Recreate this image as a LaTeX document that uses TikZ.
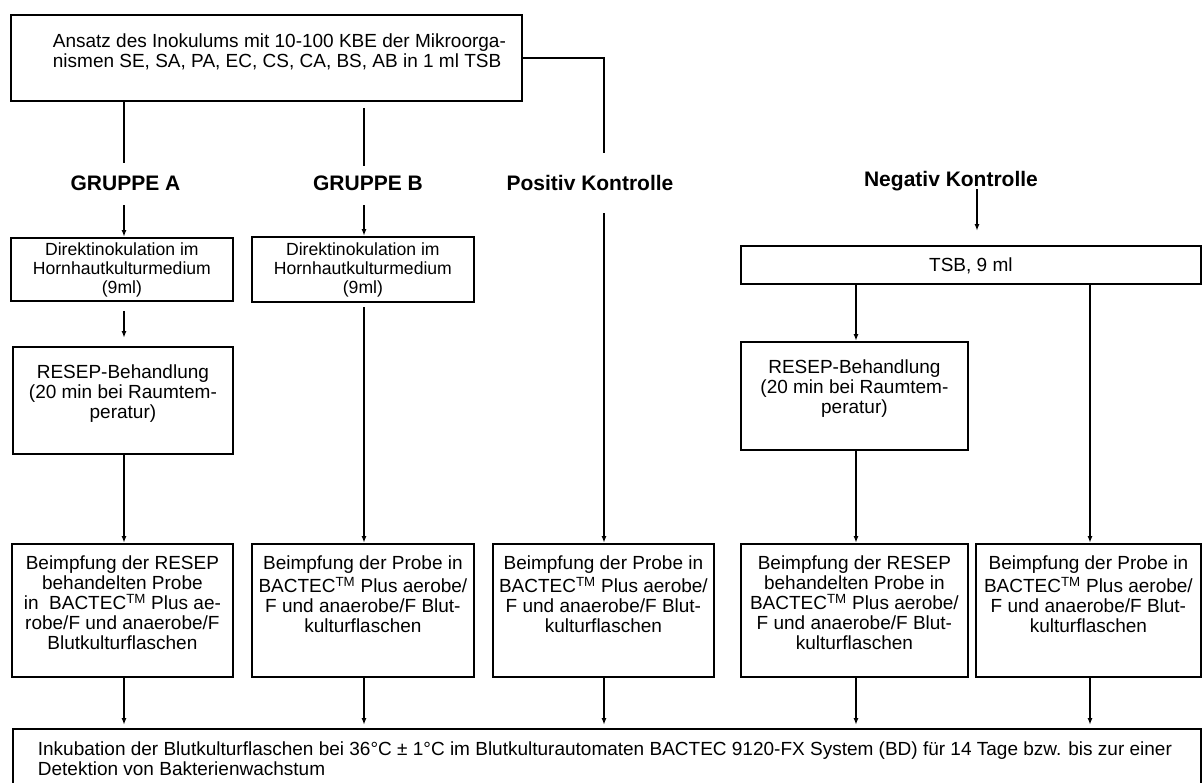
\documentclass[tikz,border=0pt]{standalone}
\usepackage{fontspec}
\setmainfont{Liberation Sans}
\usetikzlibrary{arrows.meta}

% box text: width, height, top-to-first-baseline, text
\newcommand{\cell}[5][\centering]{\parbox[c][#3][t]{#2}{#1\vspace*{\dimexpr#4-\ht\strutbox\relax}\strut #5}}

\begin{document}
\begin{tikzpicture}[x=1pt,y=-1pt,
  box/.style={draw, line width=1.8pt, inner sep=0pt, anchor=north west, font=\fontsize{19}{20}\selectfont},
  smallbox/.style={box, font=\fontsize{17.6}{19}\selectfont},
  head/.style={inner sep=0pt, anchor=base, font=\fontsize{21}{24}\selectfont\bfseries},
  link/.style={line width=1.7pt},
  arr/.style={line width=1.7pt, -{Latex[length=7pt,width=5pt]}}]
\useasboundingbox (0,0) rectangle (1202,782);

% columns
\coordinate (cA) at (124,0);
\coordinate (cB) at (364,0);
\coordinate (cP) at (604,0);
\coordinate (cN) at (856,0);
\coordinate (cT) at (977,0);
\coordinate (cM) at (1090,0);

% start
\node[box] (ansatz) at (10,14) {\cell[\raggedright\leftskip=42pt]{511pt}{86pt}{33pt}{Ansatz des Inokulums mit 10-100 KBE der Mikroorga-\\nismen SE, SA, PA, EC, CS, CA, BS, AB in 1 ml TSB}};

% group headings
\node[head] (hA) at (125.5,190.5) {GRUPPE A};
\node[head] (hB) at (368,190.5) {GRUPPE B};
\node[head] (hP) at (590,190) {Positiv Kontrolle};
\node[head] (hN) at (951,186) {Negativ Kontrolle};

% Gruppe A / B
\node[smallbox] (A1) at (10,237) {\cell{222pt}{63pt}{18pt}{Direktinokulation im\\Hornhautkulturmedium\\(9ml)}};
\node[smallbox] (B1) at (251,236) {\cell{222pt}{65pt}{19pt}{Direktinokulation im\\Hornhautkulturmedium\\(9ml)}};
\node[box] (A2) at (12,346) {\cell{220pt}{107pt}{32pt}{RESEP-Behandlung\\(20 min bei Raumtem-\\peratur)}};

% Negativ Kontrolle
\node[box] (tsb) at (740,245) {\cell{460pt}{38pt}{26pt}{TSB, 9 ml}};
\node[box] (N2) at (740,341) {\cell{227pt}{108pt}{32pt}{RESEP-Behandlung\\(20 min bei Raumtem-\\peratur)}};

% inoculation
\node[box] (A3) at (11,543) {\cell{221pt}{133pt}{26pt}{Beimpfung der RESEP\\behandelten Probe\\in\ \ BACTEC\textsuperscript{TM} Plus ae-\\robe/F und anaerobe/F\\Blutkulturflaschen}};
\node[box] (B3) at (251,543) {\cell{222pt}{133pt}{26pt}{Beimpfung der Probe in\\BACTEC\textsuperscript{TM} Plus aerobe/\\F und anaerobe/F Blut-\\kulturflaschen}};
\node[box] (P3) at (492,543) {\cell{221pt}{133pt}{26pt}{Beimpfung der Probe in\\BACTEC\textsuperscript{TM} Plus aerobe/\\F und anaerobe/F Blut-\\kulturflaschen}};
\node[box] (N3) at (740,543) {\cell{227pt}{133pt}{26pt}{Beimpfung der RESEP\\behandelten Probe in\\BACTEC\textsuperscript{TM} Plus aerobe/\\F und anaerobe/F Blut-\\kulturflaschen}};
\node[box] (M3) at (975,543) {\cell{225pt}{133pt}{26pt}{Beimpfung der Probe in\\BACTEC\textsuperscript{TM} Plus aerobe/\\F und anaerobe/F Blut-\\kulturflaschen}};

% incubation
\node[box] (inkub) at (12,728) {\cell[\raggedright\leftskip=25pt]{1188pt}{80pt}{27pt}{Inkubation der Blutkulturflaschen bei 36°C ± 1°C im Blutkulturautomaten BACTEC 9120-FX System (BD) für 14 Tage bzw. bis zur einer\\Detektion von Bakterienwachstum}};

% connectors from the start box
\draw[link, shorten >=13pt] (ansatz.south -| cA) -- (hA.north -| cA);
\draw[link, shorten <=6pt, shorten >=10pt] (ansatz.south -| cB) -- (hB.north -| cB);
\draw[link, shorten >=22pt] (ansatz.east) -| (hP.north -| cP);

% headings to boxes
\draw[arr, shorten <=14.5pt] (hA.base -| cA) -- (A1.north -| cA);
\draw[arr, shorten <=14.5pt] (hB.base -| cB) -- (B1.north -| cB);
\draw[arr, shorten <=23pt] (hP.base -| cP) -- (P3.north -| cP);
\draw[arr, shorten <=3pt, shorten >=14pt] (hN.base -| cT) -- (tsb.north -| cT);

% inside the columns
\draw[arr, shorten <=9pt, shorten >=8pt] (A1.south -| cA) -- (A2.north -| cA);
\draw[arr] (A2.south -| cA) -- (A3.north -| cA);
\draw[arr, shorten <=4pt] (B1.south -| cB) -- (B3.north -| cB);
\draw[arr] (tsb.south -| cN) -- (N2.north -| cN);
\draw[arr] (N2.south -| cN) -- (N3.north -| cN);
\draw[arr] (tsb.south -| cM) -- (M3.north -| cM);

% into the incubation box
\foreach \b/\c in {A3/cA, B3/cB, P3/cP, N3/cN, M3/cM}
  \draw[arr, shorten >=3pt] (\b.south -| \c) -- (inkub.north -| \c);
\end{tikzpicture}
\end{document}
